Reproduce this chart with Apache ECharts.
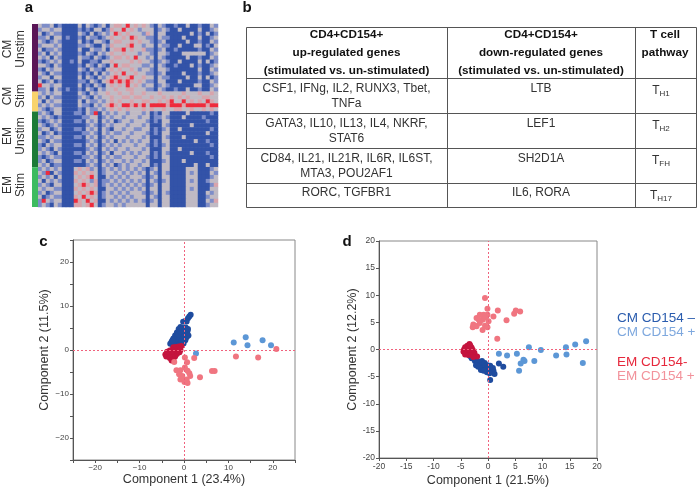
<!DOCTYPE html>
<html><head><meta charset="utf-8">
<script src="https://cdn.jsdelivr.net/npm/echarts@6/dist/echarts.min.js"></script>
<style>html,body{margin:0;padding:0;background:#fff}#c{width:698px;height:488px}</style>
</head><body><div id="c"></div>
<script>
// ---------- DATA ----------
// Heatmap (a): levels 0=dark blue,1=blue,2=grey,3=pink,4=red ; rows top->bottom
const heatRows = [
"21120 10000 20210 12023 32423 23210 21001 00200 10021",
"12212 20000 10102 20132 24232 12220 12100 20000 20012",
"20121 10000 21020 12124 32322 21320 22000 00020 10201",
"11202 20100 10211 01232 23243 22110 21100 02000 20012",
"21012 10000 20102 21023 32232 32210 12000 00200 10021",
"12221 20000 11210 02132 22342 21220 21100 20002 20102",
"20112 10000 20021 12023 34232 23110 12001 00000 10021",
"12021 20000 10210 21232 23222 12210 22100 02222 22012",
"21202 10000 21102 10123 32324 22120 21000 00200 10021",
"10121 20010 20011 02232 22232 32210 12100 20000 20201",
"22102 10000 10210 21024 23322 21120 21001 00020 10012",
"10212 20000 21021 10232 32232 12210 22100 00000 20021",
"21021 10000 10102 02123 24223 22110 12000 02000 10012",
"12202 20000 20210 21234 32342 23220 21100 00200 20201",
"20120 10000 11021 02343 43432 32110 22000 20000 10021",
"42212 20000 20102 10232 32423 21220 12100 00002 20012",
"11202 10100 10210 21223 22332 22110 21001 00200 10021",
"21212 20000 21021 22322 32232 23222 32222 23222 32232",
"12021 10000 12102 12232 23323 32232 23232 32322 23322",
"20212 20000 20211 21232 32232 23322 32342 24232 32432",
"12121 10000 21102 12343 24434 34244 44344 43444 44344",
"21012 20000 10211 21232 32322 23232 23223 32232 23232",
"12102 20001 10214 02121 22122 21201 02200 00200 00010",
"21210 10000 01122 01212 21222 12201 12100 02000 01000",
"10121 20001 10212 02120 12212 22101 02200 00000 00100",
"21012 10000 00121 01212 22122 21200 02100 00020 00000",
"12201 20001 10212 02102 21221 12201 01200 20000 00010",
"20120 10000 01121 02121 12212 22101 02200 00000 00200",
"11212 20001 10212 01212 22122 21200 02100 02000 00000",
"21021 10000 00121 02120 21212 12201 02200 00002 00100",
"10212 20001 10212 01212 12221 22101 01200 00000 00010",
"12102 10000 00121 02121 22122 21200 02200 20000 00000",
"21210 20001 10212 01202 21212 12201 02100 00020 00100",
"10121 10000 01121 02121 12221 22101 02200 00000 00010",
"12012 20001 10212 01212 21212 21200 01200 02000 00000",
"21201 10000 00121 02120 12122 12201 02200 00002 00200",
"12121 20002 32312 01212 12121 21012 02200 00222 00012",
"21402 10003 23232 01221 21212 12021 02100 00212 00021",
"12120 20002 32342 00212 12122 21012 02200 00222 00012",
"20212 10003 23213 01121 21212 12021 01200 00212 00122",
"12102 20002 34323 01212 12121 21012 02200 00222 00013",
"21221 10003 23232 00221 21212 12022 02200 00212 00022",
"12012 20002 32343 01212 12122 21012 02100 00222 00212",
"20121 10003 24232 01221 21212 22021 02200 00222 00122",
"14212 20004 32423 00212 12121 21012 02200 00222 00213",
"12102 10003 32342 01221 21222 22022 02200 00222 00122"
];
const groupNames = ["CM\nUnstim", "CM\nStim", "EM\nUnstim", "EM\nStim"];
const groupSizes = [17, 5, 14, 10];

// Table (b)
const tableHeaders = [
  "CD4+CD154+\nup-regulated genes\n(stimulated vs. un-stimulated)",
  "CD4+CD154+\ndown-regulated genes\n(stimulated vs. un-stimulated)",
  "T cell\npathway"
];
const upGenes = ["CSF1, IFNg, IL2, RUNX3, Tbet,\nTNFa", "GATA3, IL10, IL13, IL4, NKRF,\nSTAT6", "CD84, IL21, IL21R, IL6R, IL6ST,\nMTA3, POU2AF1", "RORC, TGFBR1"];
const downGenes = ["LTB", "LEF1", "SH2D1A", "IL6, RORA"];
const pathwayBase = ["T", "T", "T", "T"];
const pathwaySub = ["H1", "H2", "FH", "H17"];

// Scatter series names
const seriesNames = ["CM CD154 \u2013", "CM CD154 +", "EM CD154-", "EM CD154 +"];

// PCA (c)
const cCmNeg = [[1.5,8.0],[1.2,7.6],[0.9,7.2],[0.3,6.6],[-0.2,6.4],[0.6,6.5],[-0.8,5.2],[-0.2,5.0],[0.4,5.1],[-1.2,4.8],[-0.5,4.6],[0.2,4.4],[0.8,4.3],[-1.6,4.0],[-1.0,3.9],[-0.3,3.8],[0.5,3.7],[-2.0,3.3],[-1.4,3.2],[-0.7,3.1],[0.0,3.0],[0.6,2.9],[-2.4,2.6],[-1.8,2.5],[-1.1,2.4],[-0.4,2.3],[0.3,2.2],[-2.8,1.9],[-2.2,1.8],[-1.5,1.7],[-0.8,1.6],[-0.1,1.5],[-3.1,1.4],[-2.5,1.2],[-1.8,1.1],[-1.2,1.0],[-0.6,2.0],[-1.3,3.5],[-0.9,4.2],[-2.6,2.2],[0.9,4.8],[1.0,3.3]];
const cCmPos = [[11.2,1.7],[13.9,2.9],[14.3,1.1],[17.7,2.2],[19.6,1.1],[2.7,-0.8]];
const cEmNeg = [[-0.6,0.9],[-1.2,0.8],[-1.8,0.7],[-2.4,0.6],[-0.9,0.3],[-1.5,0.2],[-2.1,0.1],[-2.7,0.0],[-3.2,-0.1],[-1.2,-0.3],[-1.8,-0.4],[-2.4,-0.5],[-3.0,-0.6],[-3.6,-0.7],[-4.2,-1.0],[-1.6,-0.9],[-2.2,-1.0],[-2.8,-1.1],[-3.4,-1.3],[-4.0,-1.5],[-2.0,-1.5],[-2.6,-1.7],[-3.2,-1.8],[-2.4,-2.2],[-2.8,-2.4],[-1.0,-0.5],[-0.8,0.0],[-3.8,-0.4]];
const cEmPos = [[20.8,0.2],[11.7,-1.5],[16.7,-1.7],[2.3,-1.8],[0.2,-1.7],[0.7,-2.8],[-2.2,-2.7],[0.2,-4.0],[-1.7,-4.6],[-0.8,-4.6],[0.8,-4.7],[-1.1,-5.5],[-0.4,-5.9],[1.4,-5.9],[3.6,-6.2],[6.3,-4.8],[6.9,-4.8],[-0.8,-6.7],[0.6,-6.7],[0.8,-7.5],[0.1,-7.3],[1.2,-5.3],[-0.5,-6.3]];

// PCA (d)
const dCmNeg = [[-3.3,-1.2],[-3.0,-1.6],[-2.6,-1.4],[-2.4,-2.1],[-2.1,-1.8],[-1.9,-2.5],[-1.5,-2.3],[-1.5,-2.9],[-1.1,-2.1],[-1.0,-2.8],[-0.9,-3.3],[-0.6,-2.5],[-0.5,-3.0],[-0.3,-3.6],[-0.1,-2.9],[0.0,-3.3],[0.2,-3.9],[0.4,-3.0],[0.5,-3.5],[0.7,-4.1],[0.9,-3.4],[1.0,-3.9],[1.2,-4.5],[-0.2,-4.2],[-1.3,-3.8],[0.4,-5.6],[2.0,-2.6],[2.8,-3.2],[-2.2,-2.9],[-0.8,-3.9],[0.3,-4.4],[-1.8,-3.2]];
const dCmPos = [[18.0,1.5],[16.0,0.9],[14.3,0.4],[14.4,-0.9],[12.5,-1.1],[17.4,-2.5],[9.7,-0.1],[7.5,0.4],[5.3,-0.8],[3.5,-1.1],[2.0,-0.8],[6.5,-1.9],[6.7,-2.1],[6.0,-2.6],[8.5,-2.1],[5.7,-3.9]];
const dEmNeg = [[-3.4,1.0],[-3.8,0.7],[-3.2,0.6],[-4.2,0.4],[-3.6,0.3],[-3.0,0.3],[-4.4,0.0],[-3.9,-0.1],[-3.3,-0.1],[-2.8,-0.1],[-4.5,-0.4],[-4.0,-0.5],[-3.5,-0.5],[-3.0,-0.6],[-2.5,-0.6],[-4.2,-0.9],[-3.6,-1.0],[-3.0,-1.0],[-2.4,-1.1],[-2.0,-1.3],[-3.7,0.0],[-4.1,0.1],[-2.7,-1.4],[-3.3,0.8]];
const dEmPos = [[-0.55,9.5],[-0.1,7.5],[1.8,7.2],[5.1,7.2],[5.9,7.0],[4.8,6.6],[3.4,5.4],[1.0,6.1],[-0.1,6.4],[-0.8,6.4],[-1.5,6.4],[-2.1,5.8],[-2.7,4.6],[-2.8,4.1],[-2.1,4.3],[-1.5,4.9],[-1.0,5.5],[-0.55,4.4],[-0.1,4.1],[-1.0,3.6],[1.7,2.0],[-1.7,5.5],[-0.4,5.9],[-2.4,4.4],[0.1,5.2]];

const ticksC = [-20, -10, 0, 10, 20];
const ticksD = [-20, -15, -10, -5, 0, 5, 10, 15, 20];
const axisNamesC = ["Component 1 (23.4%)", "Component 2 (11.5%)"];
const axisNamesD = ["Component 1 (21.5%)", "Component 2 (12.2%)"];

// ---------- STYLE / LAYOUT ----------
const FONT = "'Liberation Sans', Arial, Helvetica, sans-serif";
const heatColors = ['#3353a8', '#7e8dc8', '#c0bac4', '#d8a4ac', '#ee2b3c'];
const groupColors = ['#5a1657', '#f8d36d', '#1c7a38', '#3dbb60'];
const dotColors = ['#1f4c9f', '#5c97d6', '#c4143e', '#f07580'];
const legendColors = ['#2a5cae', '#7ea8de', '#e6283c', '#f2929b'];

const rows = heatRows.map(s => s.replace(/ /g, ''));
const nRows = rows.length, nCols = rows[0].length;
const heatData = [];
rows.forEach((s, r) => { for (let c = 0; c < nCols; c++) heatData.push([c, r, +s[c]]); });

const chart = echarts.init(document.getElementById('c'), null, {renderer: 'canvas'});

function valAxis(gi, min, max, ticks, name, isX, fs, gap, minusChar) {
  return {
    type: 'value', gridIndex: gi, min: min, max: max, interval: 5,
    name: name, nameLocation: 'middle', nameGap: gap,
    nameRotate: isX ? 0 : 90,
    nameTextStyle: {fontFamily: FONT, fontSize: 12.5, color: '#333'},
    axisLine: {show: true, onZero: false, lineStyle: {color: '#555', width: 1}},
    axisTick: {show: true, length: 3, inside: false, lineStyle: {color: '#555'}},
    axisLabel: {fontFamily: FONT, fontSize: fs, color: '#444', margin: 4,
      formatter: v => ticks.indexOf(v) >= 0 ? String(v).replace('-', minusChar) : ''},
    splitLine: {show: false}
  };
}

const zeroLines = {
  silent: true, symbol: ['none', 'none'], label: {show: false},
  lineStyle: {type: [2, 2], color: '#f0627d', width: 1},
  emphasis: {disabled: true},
  data: [{xAxis: 0}, {yAxis: 0}]
};

const series = [];
series.push({
  type: 'heatmap', xAxisIndex: 0, yAxisIndex: 0, data: heatData,
  itemStyle: {borderWidth: 0}, emphasis: {disabled: true}, silent: true
});
groupSizes.forEach((g, i) => series.push({
  type: 'bar', name: 'grp' + i, xAxisIndex: 1, yAxisIndex: 1, stack: 'grp',
  data: [g], barWidth: '100%', itemStyle: {color: groupColors[i]}, silent: true
}));
const cData = [cCmNeg, cCmPos, cEmNeg, cEmPos];
const dData = [dCmNeg, dCmPos, dEmNeg, dEmPos];
[[cData, 2], [dData, 3]].forEach(([set, ax]) => {
  const order = [0, 2, 1, 3];
  order.forEach((k, j) => {
    const s = {
      type: 'scatter', name: seriesNames[k], xAxisIndex: ax, yAxisIndex: ax,
      data: set[k], symbolSize: 6, itemStyle: {color: dotColors[k], opacity: 1},
      silent: true
    };
    if (j === 0) s.markLine = zeroLines;
    series.push(s);
  });
});

// graphic elements
const g = [];
function letter(t, x, y) {
  g.push({type: 'text', x: x, y: y, style: {text: t, font: 'bold 15px ' + FONT, fill: '#111', align: 'center', verticalAlign: 'middle'}});
}
letter('a', 29, 8); letter('b', 247, 8); letter('c', 43.5, 242); letter('d', 347, 242);

const groupLabelY = [49, 96, 136, 185];
groupNames.forEach((t, i) => g.push({
  type: 'text', x: 14, y: groupLabelY[i], rotation: Math.PI / 2,
  style: {text: t, fontFamily: FONT, fontSize: 12, lineHeight: 13, fill: '#333', align: 'center', verticalAlign: 'middle'}
}));

// table
const tL = 246.5, tR = 696.5, tT = 27, tB = 207;
const colX = [tL, 447.5, 635.5, tR];
const rowY = [tT, 78.3, 113.3, 148.3, 182.7, tB];
g.push({type: 'rect', shape: {x: tL, y: tT + 0.5, width: tR - tL, height: tB - tT}, style: {fill: 'none', stroke: '#555', lineWidth: 1}});
[colX[1], colX[2]].forEach(x => g.push({type: 'line', shape: {x1: x, y1: tT, x2: x, y2: tB}, style: {stroke: '#555', lineWidth: 1}}));
rowY.slice(1, 5).forEach(y => g.push({type: 'line', shape: {x1: tL, y1: Math.round(y) + 0.5, x2: tR, y2: Math.round(y) + 0.5}, style: {stroke: '#555', lineWidth: 1}}));
const colC = [346.5, 541, 665];
tableHeaders.forEach((t, i) => g.push({
  type: 'text', x: colC[i], y: 26.3,
  style: {text: t, fontFamily: FONT, fontWeight: 'bold', fontSize: 11.7, lineHeight: 17.6, fill: '#111', align: 'center', verticalAlign: 'top'}
}));
for (let r = 0; r < 4; r++) {
  const top = rowY[r + 1] + 2.8;
  g.push({type: 'text', x: colC[0], y: top, style: {text: upGenes[r], fontFamily: FONT, fontSize: 12, lineHeight: 15, fill: '#333', align: 'center', verticalAlign: 'top'}});
  g.push({type: 'text', x: colC[1], y: top, style: {text: downGenes[r], fontFamily: FONT, fontSize: 12, lineHeight: 15, fill: '#333', align: 'center', verticalAlign: 'top'}});
  g.push({type: 'text', x: 661, y: top + 3, style: {
    text: '{t|' + pathwayBase[r] + '}{s|' + pathwaySub[r] + '}', align: 'center', verticalAlign: 'top',
    rich: {t: {fontFamily: FONT, fontSize: 12, lineHeight: 14, fill: '#333', verticalAlign: 'middle'},
           s: {fontFamily: FONT, fontSize: 8, lineHeight: 14, fill: '#333', verticalAlign: 'bottom'}}
  }});
}

const option = {
  animation: false,
  textStyle: {fontFamily: FONT},
  grid: [
    {left: 38, top: 24, width: 180, height: 183},
    {left: 32, top: 24, width: 6, height: 183},
    {left: 73, top: 240, width: 222, height: 220, show: true, borderColor: '#888', borderWidth: 1},
    {left: 379, top: 241, width: 218, height: 217, show: true, borderColor: '#888', borderWidth: 1}
  ],
  xAxis: [
    {type: 'category', gridIndex: 0, data: Array.from({length: nCols}, (_, i) => i), show: false},
    {type: 'category', gridIndex: 1, data: ['g'], show: false},
    valAxis(2, -25, 25, ticksC, axisNamesC[0], true, 8, 13, '\u2212'),
    valAxis(3, -20, 20, ticksD, axisNamesD[0], true, 8.5, 16, '-')
  ],
  yAxis: [
    {type: 'category', gridIndex: 0, data: Array.from({length: nRows}, (_, i) => i), inverse: true, show: false},
    {type: 'value', gridIndex: 1, min: 0, max: groupSizes.reduce((a, b) => a + b, 0), inverse: true, show: false},
    valAxis(2, -25, 25, ticksC, axisNamesC[1], false, 8, 22, '\u2212'),
    valAxis(3, -20, 20, ticksD, axisNamesD[1], false, 8.5, 20, '-')
  ],
  visualMap: {
    type: 'piecewise', show: false, seriesIndex: 0, dimension: 2,
    pieces: heatColors.map((col, i) => ({value: i, color: col}))
  },
  legend: [
    {left: 612, top: 311, orient: 'vertical', icon: 'none', itemWidth: 0, itemHeight: 14, itemGap: 0, padding: 0, selectedMode: false,
     textStyle: {fontFamily: FONT, fontSize: 13.5, lineHeight: 14},
     data: [0, 1].map(k => ({name: seriesNames[k], textStyle: {color: legendColors[k]}}))},
    {left: 612, top: 355, orient: 'vertical', icon: 'none', itemWidth: 0, itemHeight: 14, itemGap: 0, padding: 0, selectedMode: false,
     textStyle: {fontFamily: FONT, fontSize: 13.5, lineHeight: 14},
     data: [2, 3].map(k => ({name: seriesNames[k], textStyle: {color: legendColors[k]}}))}
  ],
  graphic: g,
  series: series
};
chart.setOption(option);
</script></body></html>
